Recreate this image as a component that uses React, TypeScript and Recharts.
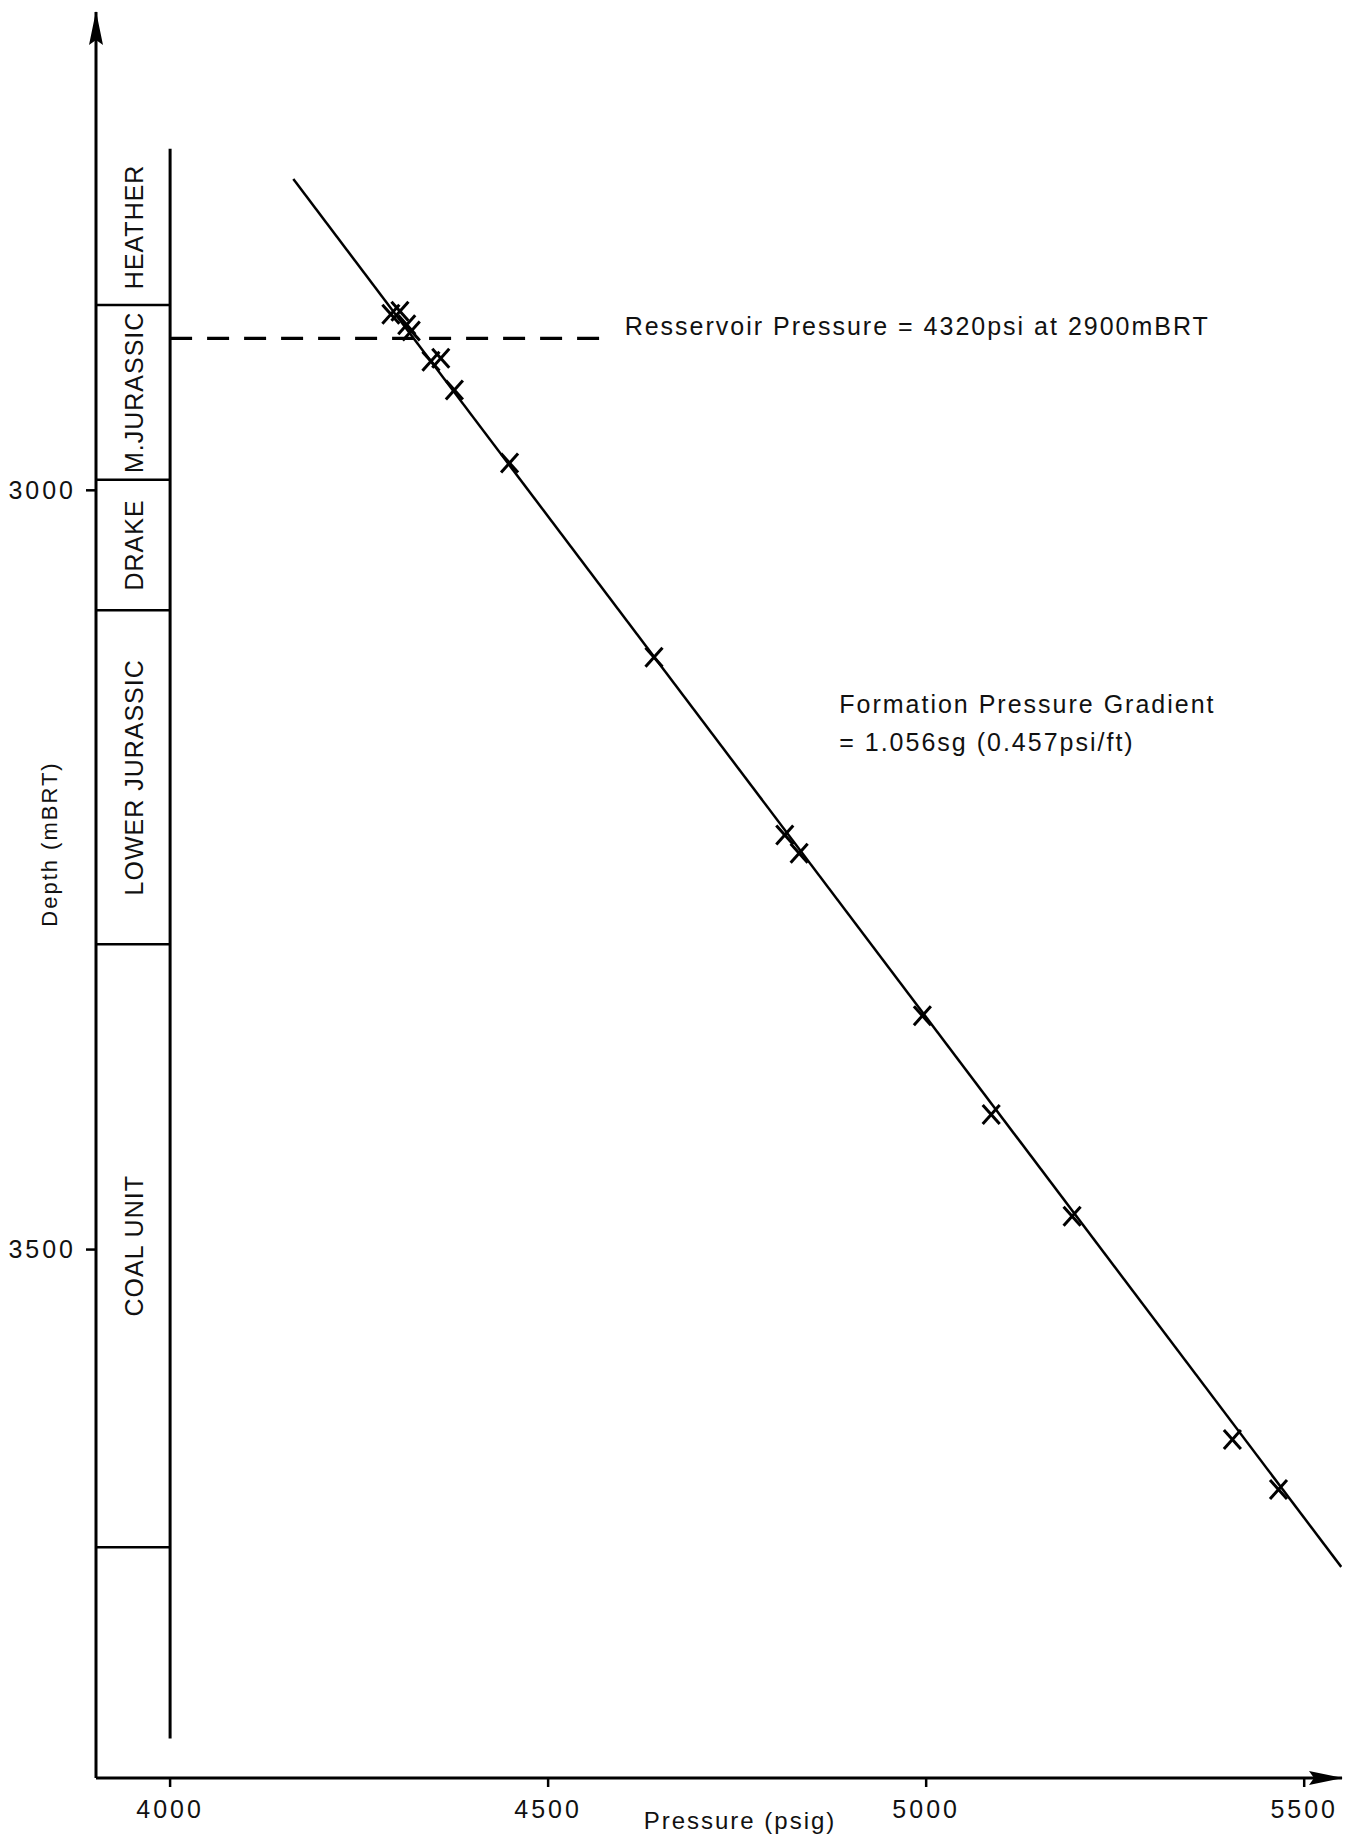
import React from "react";
import {
  ComposedChart,
  Scatter,
  XAxis,
  YAxis,
  ReferenceLine,
  ReferenceArea,
  ReferenceDot,
  Label,
} from "recharts";

// RFT pressure points (psig vs depth mBRT)
const PRESSURE = [4292, 4304, 4313, 4319, 4345, 4358, 4376, 4449, 4640, 4813, 4832, 4995, 5086, 5193, 5405, 5466];
const DEPTH = [2884, 2882, 2891, 2895, 2915, 2913, 2934, 2982, 3110, 3227, 3239, 3346, 3411, 3478, 3625, 3658];

// fitted gradient line end points
const FIT_PRESSURE = [4163, 5549];
const FIT_DEPTH = [2795, 3709];

// lithology column
const FORMATIONS = ["HEATHER", "M.JURASSIC", "DRAKE", "LOWER JURASSIC", "COAL UNIT", ""];
const FORMATION_TOPS = [2775, 2878, 2993, 3079, 3299, 3696];
const COLUMN_BASE = 3822;

const X_TICKS = [4000, 4500, 5000, 5500];
const Y_TICKS = [3000, 3500];
const X_DOMAIN = [3902, 5550];
const Y_DOMAIN = [2685, 3848];

const RES_PRESSURE = 4320;
const RES_DEPTH = 2900;
const RES_LINE_END = 4584;

const FONT = "'Liberation Sans', Arial, Helvetica, sans-serif";
const INK = "#111";

const points = PRESSURE.map((p, i) => ({ p, d: DEPTH[i] }));
const fit = FIT_PRESSURE.map((p, i) => ({ p, d: FIT_DEPTH[i] }));

const XMark = (props: any) => {
  const { cx, cy } = props;
  const a = 8.5;
  return (
    <g stroke="#000" strokeWidth={3} strokeLinecap="butt">
      <line x1={cx - a} y1={cy - a - 1} x2={cx + a} y2={cy + a + 1} />
      <line x1={cx + a} y1={cy - a - 1} x2={cx - a} y2={cy + a + 1} />
    </g>
  );
};

const NoShape = () => <g />;

const textStyle = { fontFamily: FONT, fill: INK };

export default function App() {
  const bands = FORMATIONS.map((name, i) => ({
    name,
    top: FORMATION_TOPS[i],
    bottom: i + 1 < FORMATION_TOPS.length ? FORMATION_TOPS[i + 1] : COLUMN_BASE,
  }));

  return (
    <div style={{ position: "absolute", left: 0, top: 0, background: "#fff" }}>
      <svg width={0} height={0} style={{ position: "absolute" }}>
        <defs>
          <marker
            id="axisArrow"
            viewBox="0 0 34 16"
            refX={33}
            refY={8}
            markerWidth={34}
            markerHeight={16}
            markerUnits="userSpaceOnUse"
            orient="auto-start-reverse"
          >
            <path d="M0,1 L34,8 L0,15 L5,8 z" fill="#000" />
          </marker>
        </defs>
      </svg>
      <ComposedChart width={1371} height={1838} margin={{ top: 12, right: 29, bottom: 0, left: 0 }}>
        <XAxis
          type="number"
          dataKey="p"
          domain={X_DOMAIN}
          allowDataOverflow
          ticks={X_TICKS}
          height={60}
          tickSize={9}
          tickMargin={13}
          axisLine={{ stroke: "#000", strokeWidth: 3, markerEnd: "url(#axisArrow)" }}
          tickLine={{ stroke: "#000", strokeWidth: 2.5 }}
          tick={{ ...textStyle, fontSize: 25, letterSpacing: 3 }}
        >
          <Label
            content={() => (
              <text x={740} y={1829} textAnchor="middle" fontSize={24} letterSpacing={2} {...textStyle}>
                Pressure (psig)
              </text>
            )}
          />
        </XAxis>
        <YAxis
          type="number"
          dataKey="d"
          reversed
          domain={Y_DOMAIN}
          allowDataOverflow
          ticks={Y_TICKS}
          width={96}
          tickSize={10}
          tickMargin={10}
          axisLine={{ stroke: "#000", strokeWidth: 3, markerStart: "url(#axisArrow)" }}
          tickLine={{ stroke: "#000", strokeWidth: 2.5 }}
          tick={{ ...textStyle, fontSize: 25, letterSpacing: 3 }}
        >
          <Label
            content={() => (
              <text
                x={49}
                y={844}
                textAnchor="middle"
                dominantBaseline="central"
                transform="rotate(-90 49 844)"
                fontSize={22}
                letterSpacing={2}
                {...textStyle}
              >
                Depth (mBRT)
              </text>
            )}
          />
        </YAxis>

        {/* lithology column */}
        <ReferenceLine
          segment={[
            { x: 4000, y: FORMATION_TOPS[0] },
            { x: 4000, y: COLUMN_BASE },
          ]}
          stroke="#000"
          strokeWidth={3}
        />
        {FORMATION_TOPS.slice(1).map((t) => (
          <ReferenceLine
            key={t}
            segment={[
              { x: X_DOMAIN[0], y: t },
              { x: 4000, y: t },
            ]}
            stroke="#000"
            strokeWidth={2.5}
          />
        ))}
        {bands.map((b) => (
          <ReferenceArea
            key={b.top}
            x1={X_DOMAIN[0]}
            x2={4000}
            y1={b.top}
            y2={b.bottom}
            fill="none"
            stroke="none"
            label={(props: any) => {
              const vb = props.viewBox;
              if (!vb || !b.name) return null;
              const cx = vb.x + vb.width / 2 + 1;
              const cy = vb.y + vb.height / 2;
              return (
                <text
                  x={cx}
                  y={cy}
                  textAnchor="middle"
                  dominantBaseline="central"
                  transform={`rotate(-90 ${cx} ${cy})`}
                  fontSize={25}
                  letterSpacing={1}
                  {...textStyle}
                >
                  {b.name}
                </text>
              );
            }}
          />
        ))}

        {/* reservoir pressure marker */}
        <ReferenceLine
          segment={[
            { x: 4000, y: RES_DEPTH },
            { x: RES_LINE_END, y: RES_DEPTH },
          ]}
          stroke="#000"
          strokeWidth={3.2}
          strokeDasharray="22 15"
          label={(props: any) => {
            const vb = props.viewBox;
            if (!vb) return null;
            return (
              <text x={vb.x + vb.width + 13} y={vb.y - 3} fontSize={25} letterSpacing={2} {...textStyle}>
                {`Resservoir Pressure = ${RES_PRESSURE}psi at ${RES_DEPTH}mBRT`}
              </text>
            );
          }}
        />

        {/* gradient note */}
        <ReferenceDot
          x={4885}
          y={3141}
          r={0}
          fill="none"
          stroke="none"
          label={(props: any) => {
            const vb = props.viewBox;
            if (!vb) return null;
            return (
              <text fontSize={25} letterSpacing={2} {...textStyle}>
                <tspan x={vb.x} y={vb.y + 9}>Formation Pressure Gradient</tspan>
                <tspan x={vb.x} y={vb.y + 47}>= 1.056sg (0.457psi/ft)</tspan>
              </text>
            );
          }}
        />

        <Scatter
          data={fit}
          line={{ stroke: "#000", strokeWidth: 2.5 }}
          shape={NoShape}
          isAnimationActive={false}
        />
        <Scatter data={points} shape={XMark} isAnimationActive={false} />
      </ComposedChart>
    </div>
  );
}
